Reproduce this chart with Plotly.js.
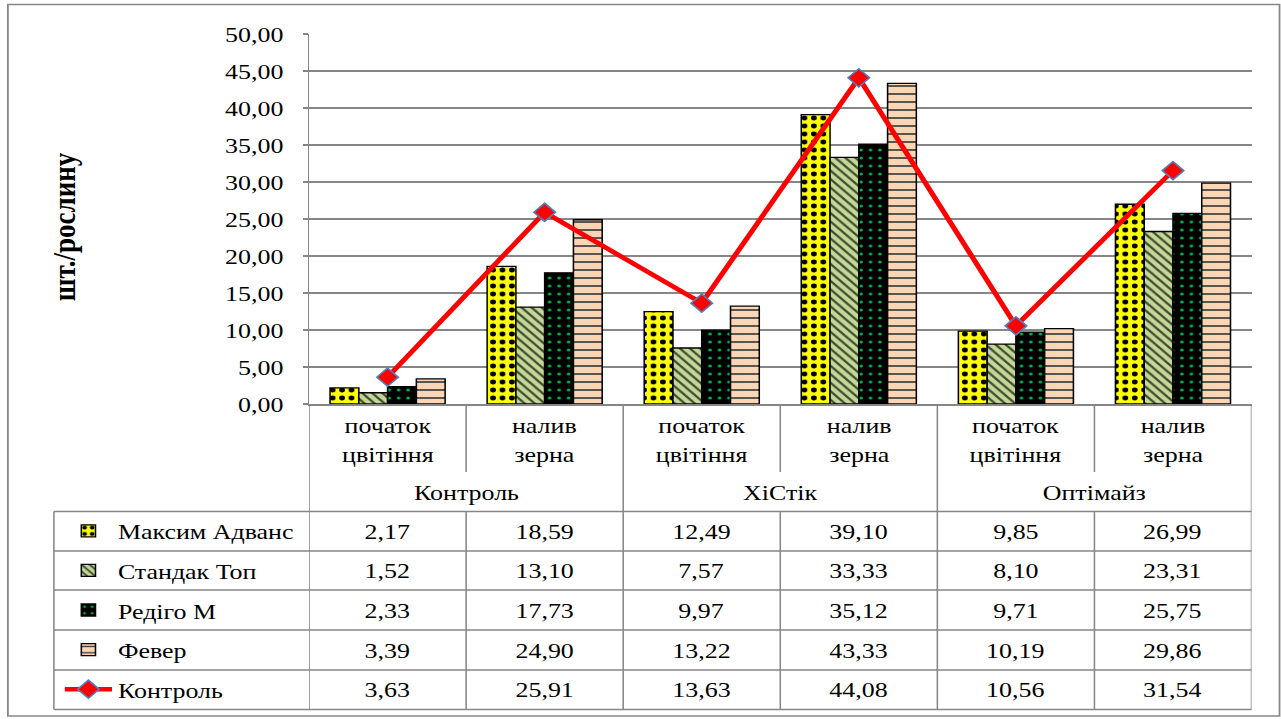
<!DOCTYPE html>
<html>
<head>
<meta charset="utf-8">
<script src="https://cdn.plot.ly/plotly-3.0.1.min.js"></script>
<style>
html,body{margin:0;padding:0;overflow:hidden;background:#fff;}
#chart{width:1086px;height:719px;transform:scaleX(1.17956);transform-origin:0 0;}
</style>
</head>
<body>
<div id="chart"></div>
<script>
// ---- data ----
const stages = ["початок<br>цвітіння", "налив<br>зерна", "початок<br>цвітіння", "налив<br>зерна", "початок<br>цвітіння", "налив<br>зерна"];
const groups = ["Контроль", "ХіСтік", "Оптімайз"];
const seriesNames = ["Максим Адванс", "Стандак Топ", "Редіго М", "Февер", "Контроль"];
const maksymAdvans = [2.17, 18.59, 12.49, 39.10, 9.85, 26.99];
const standakTop   = [1.52, 13.10, 7.57, 33.33, 8.10, 23.31];
const redigoM      = [2.33, 17.73, 9.97, 35.12, 9.71, 25.75];
const fever        = [3.39, 24.90, 13.22, 43.33, 10.19, 29.86];
const kontrol      = [3.63, 25.91, 13.63, 44.08, 10.56, 31.54];
const yTitle = "шт./рослину";

// ---- geometry helpers (reference pixels -> paper) ----
const S = 1281 / 1086, W = 1086, H = 719;
const ml = 309 / S, mr = W - 1251 / S, mt = 34, mb = 719 - 404;
const pw = W - ml - mr, ph = H - mt - mb;
const px = xr => (xr / S - ml) / pw;
const py = yr => (404 - yr) / ph;

const FONT = "Liberation Serif, Times New Roman, serif";
const GRID = "#868686";
const idx = stages.map((_, i) => i);
const fmt = v => v.toFixed(2).replace(".", ",");

const barStyles = [
  {bg: "#ffff00", fg: "#000000", shape: ".", size: 8, solidity: 0.3},
  {bg: "#c4d79b", fg: "#3f4a2a", shape: "\\", size: 6, solidity: 0.35},
  {bg: "#000000", fg: "#00b050", shape: ".", size: 8, solidity: 0.12},
  {bg: "#fcd5b4", fg: "#333333", shape: "-", size: 8, solidity: 0.2}
];
const barData = [maksymAdvans, standakTop, redigoM, fever];

const traces = barData.map((vals, k) => ({
  type: "bar", x: idx, y: vals, name: seriesNames[k], legendgroup: "g" + k,
  marker: {
    color: barStyles[k].bg,
    line: {color: "#000", width: 1.3},
    pattern: {shape: barStyles[k].shape, fgcolor: barStyles[k].fg, bgcolor: barStyles[k].bg,
              size: barStyles[k].size, solidity: barStyles[k].solidity, fillmode: "replace"}
  },
  hoverinfo: "skip"
}));
traces.push({
  type: "scatter", mode: "lines+markers", x: idx, y: kontrol, name: seriesNames[4], legendgroup: "g4",
  line: {color: "#ff0000", width: 4.5},
  marker: {symbol: "diamond", size: 14, color: "#ff0000", line: {color: "#4f81bd", width: 1.5}},
  hoverinfo: "skip"
});

// ---- table lines ----
const shapes = [];
const L = (x0, y0, x1, y1) => shapes.push({type: "line", xref: "paper", yref: "paper",
  x0: x0, y0: y0, x1: x1, y1: y1, line: {color: GRID, width: 1.5}});
const rowLines = [511.5, 551, 590, 630, 670, 709.5];
rowLines.forEach(r => L(px(54), py(r), px(1251), py(r)));
shapes.push({type: "line", xref: "paper", yref: "paper", x0: px(54), x1: px(54), y0: py(511.5), y1: py(709.5),
  line: {color: GRID, width: 1.3}});
for (let k = 0; k <= stages.length; k++) {
  const b = k - 0.5;
  if (k % 2 === 0) {
    shapes.push({type: "line", xref: "x", yref: "paper", x0: b, x1: b, y0: py(404), y1: py(709.5), line: {color: GRID, width: 1.3}});
  } else {
    shapes.push({type: "line", xref: "x", yref: "paper", x0: b, x1: b, y0: py(404), y1: py(472), line: {color: GRID, width: 1.3}});
    shapes.push({type: "line", xref: "x", yref: "paper", x0: b, x1: b, y0: py(511.5), y1: py(709.5), line: {color: GRID, width: 1.3}});
  }
}
// outer chart border
shapes.push({type: "rect", xref: "paper", yref: "paper", x0: px(8), x1: px(1279), y0: py(4.5), y1: py(716),
  line: {color: GRID, width: 1.5}, fillcolor: "rgba(0,0,0,0)"});

// ---- annotations ----
const annotations = [];
const A = o => annotations.push(Object.assign({showarrow: false, font: {family: FONT, size: 22, color: "#000"}}, o));
stages.forEach((s, i) => A({text: s, xref: "x", yref: "paper", x: i, y: py(440), yanchor: "middle"}));
groups.forEach((g, j) => A({text: g, xref: "x", yref: "paper", x: 2 * j + 0.5, y: py(492), yanchor: "middle"}));
const allSeries = [maksymAdvans, standakTop, redigoM, fever, kontrol];
const rowCenters = [531.3, 570.5, 610, 650, 689.7];
allSeries.forEach((vals, r) => vals.forEach((v, i) =>
  A({text: fmt(v), xref: "x", yref: "paper", x: i, y: py(rowCenters[r]), yanchor: "middle"})));
A({text: "<b>" + yTitle + "</b>", xref: "paper", yref: "paper", x: px(64), y: py(227), textangle: -90,
   xanchor: "center", yanchor: "middle", font: {family: FONT, size: 27, color: "#000"}});

const layout = {
  width: W, height: H,
  margin: {l: ml, r: mr, t: mt, b: mb, pad: 0, autoexpand: false},
  paper_bgcolor: "#fff", plot_bgcolor: "#fff",
  separators: ", ",
  barmode: "group", bargap: 0.2675, bargroupgap: 0,
  showlegend: true,
  legend: {x: px(59), y: py(510), xanchor: "left", yanchor: "top", bgcolor: "rgba(0,0,0,0)",
           font: {family: FONT, size: 22, color: "#000"}, tracegroupgap: 8, itemwidth: 40},
  xaxis: {range: [-0.5, stages.length - 0.5], showgrid: false, zeroline: false, showticklabels: false,
          ticks: "", showline: true, linecolor: GRID, linewidth: 1.5, fixedrange: true},
  yaxis: {range: [0, 50], dtick: 5, tickformat: ".2f", showgrid: true, gridcolor: GRID, gridwidth: 1.5,
          zeroline: false, showline: true, linecolor: GRID, linewidth: 1.3, ticks: "outside", ticklen: 4,
          tickcolor: GRID, tickwidth: 1.3, ticklabelstandoff: 12,
          tickfont: {family: FONT, size: 22, color: "#000"}, fixedrange: true},
  shapes: shapes, annotations: annotations
};
Plotly.newPlot("chart", traces, layout, {staticPlot: true, displayModeBar: false});
</script>
</body>
</html>
